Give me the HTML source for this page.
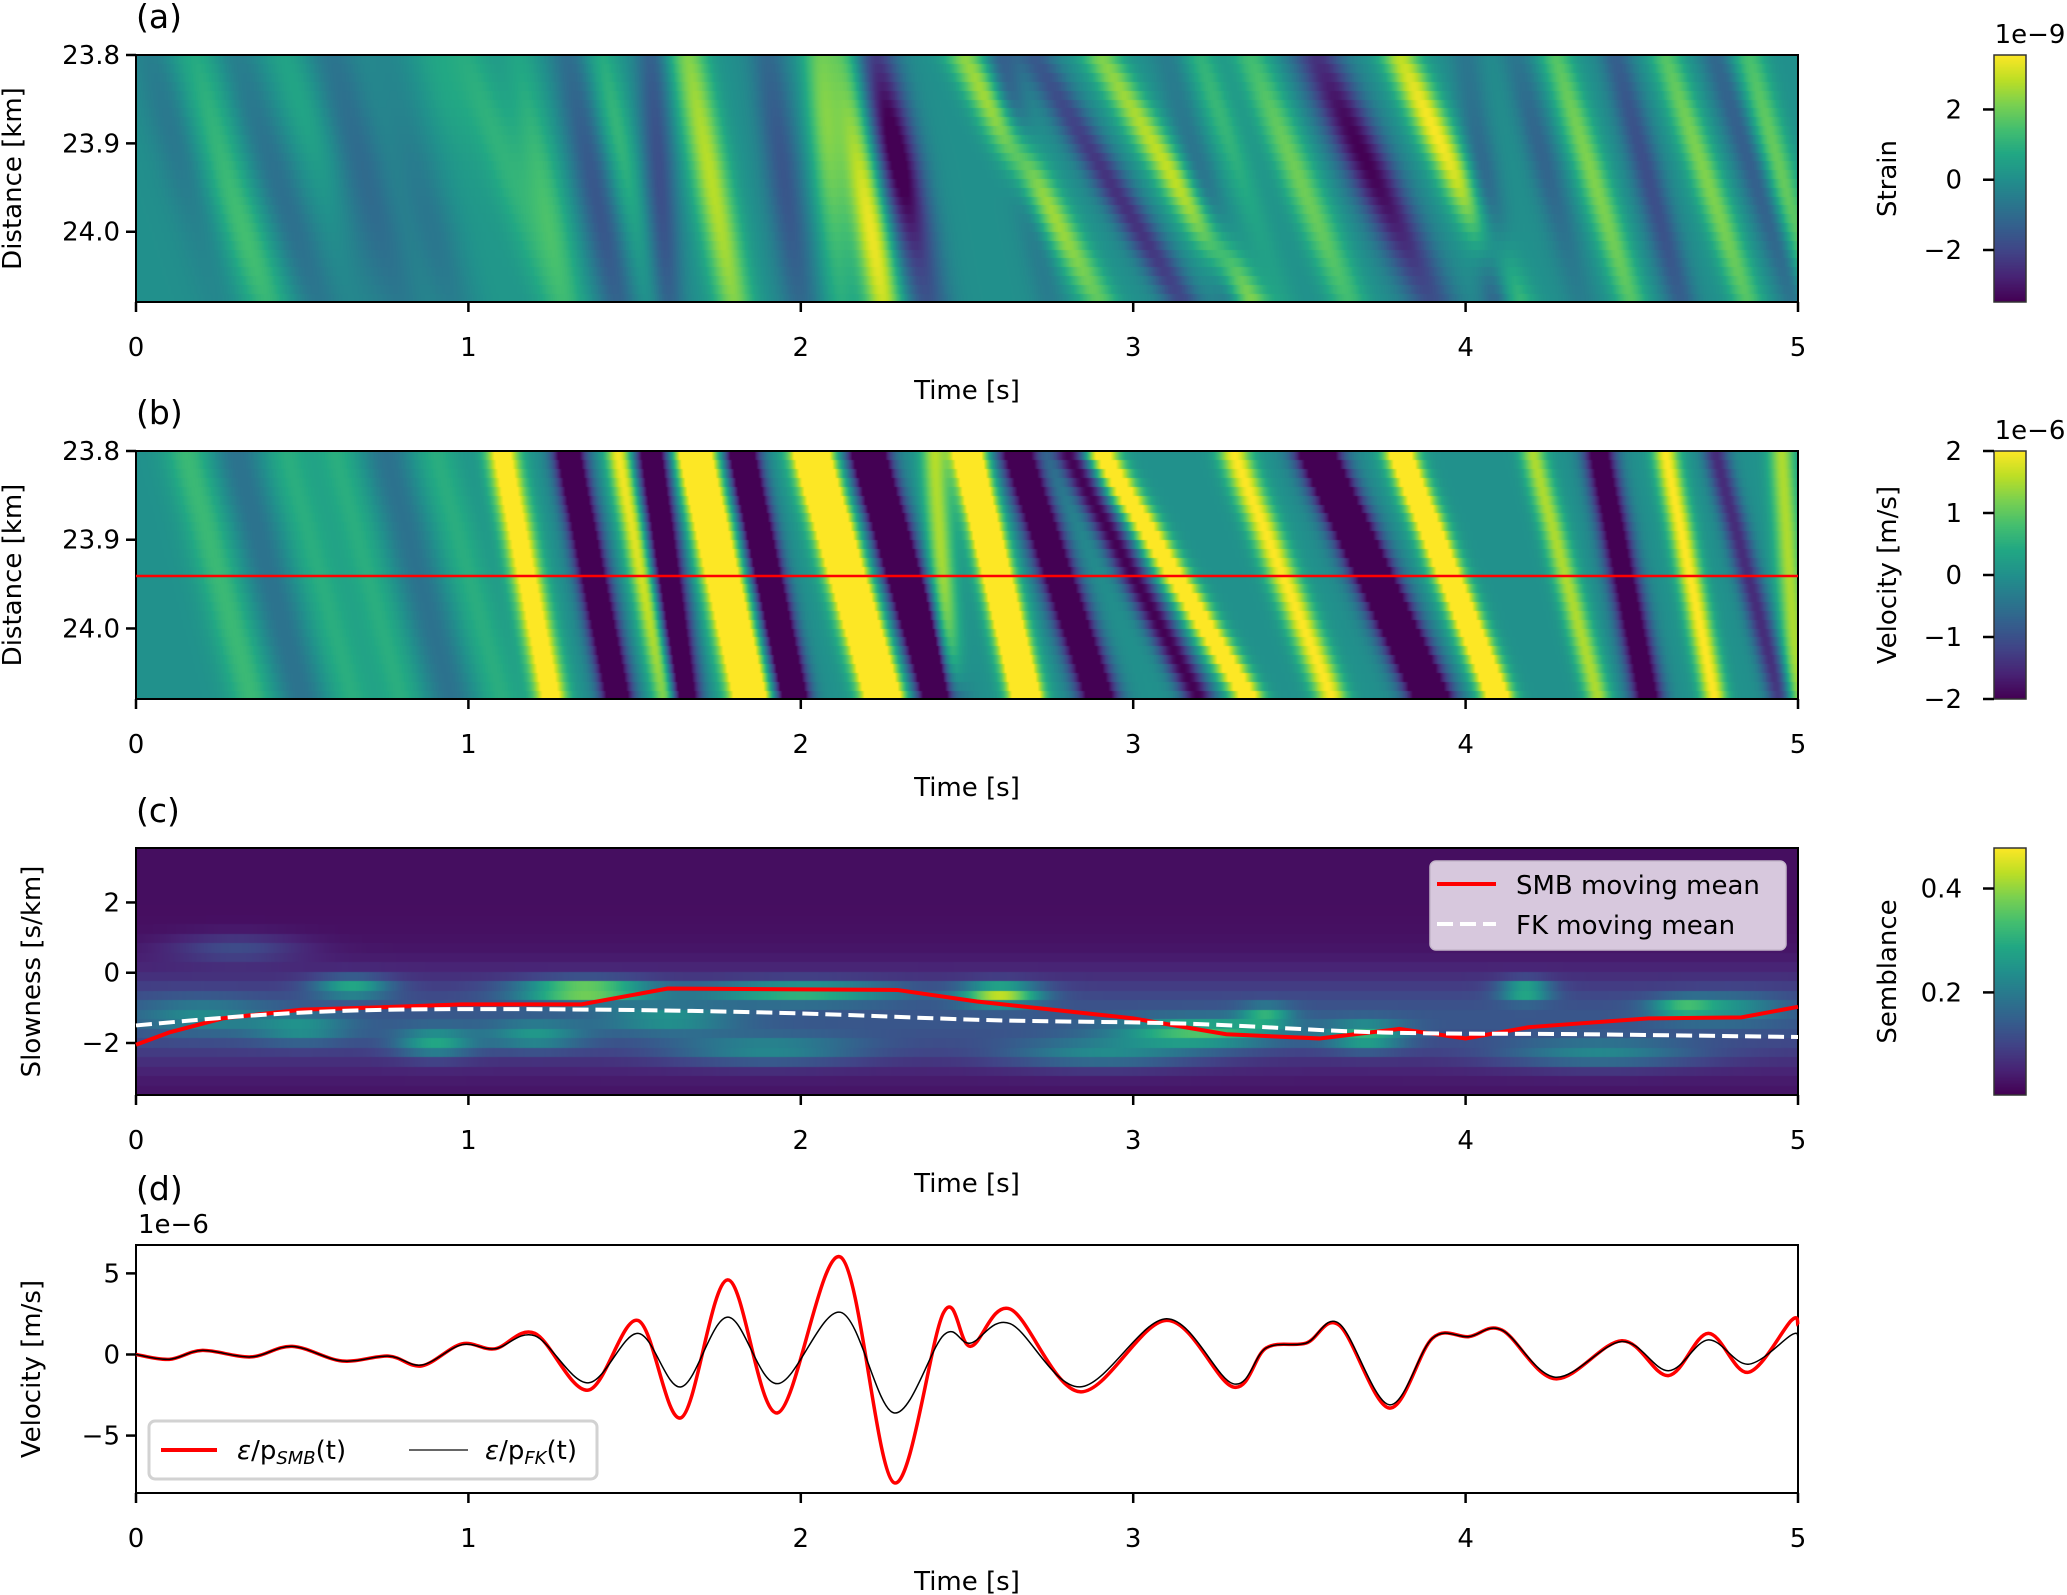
<!DOCTYPE html>
<html><head><meta charset="utf-8">
<style>
html,body{margin:0;padding:0;background:#fff;}
#wrap{position:relative;width:2067px;height:1595px;overflow:hidden;font-family:"DejaVu Sans","Liberation Sans",sans-serif;}
canvas{position:absolute;}
svg{position:absolute;left:0;top:0;}
text{font-family:"DejaVu Sans","Liberation Sans",sans-serif;font-size:26px;fill:#000;}
</style></head>
<body>
<div id="wrap">
<canvas id="ca" width="1662" height="247" style="left:136px;top:55px"></canvas>
<canvas id="cb" width="1662" height="248" style="left:136px;top:451px"></canvas>
<canvas id="cc" width="1662" height="247" style="left:136px;top:848px"></canvas>
<canvas id="cba" width="32" height="247" style="left:1994px;top:55px"></canvas>
<canvas id="cbb" width="32" height="248" style="left:1994px;top:451px"></canvas>
<canvas id="cbc" width="32" height="247" style="left:1994px;top:848px"></canvas>
<svg id="svg" width="2067" height="1595"></svg>
</div>
<script>
// ---------- DATA ----------
// panel (a) strain wave stripes: arrival time at top / bottom of array, amplitude (1e-9), width (s), depth centre (0..1) and depth extent
const strainTop   =[0.15,0.3,0.6,1.0,1.15,1.3,1.55,1.66,1.9,2.05,2.13,2.22,2.49,2.6,2.7,2.9,3.35,3.55,3.8,4.0,4.27,4.45,4.6,4.75,4.85,0.05,0.45,0.75,0.9,0.2,0.55,1.4,3.1,3.2,4.15];
const strainBottom=[0.4,0.55,0.8,1.25,1.3,1.45,1.6,1.8,2.0,2.12,2.25,2.38,2.9,2.75,3.15,3.35,3.65,3.9,4.15,4.1,4.5,4.65,4.85,5.0,5.05,0.25,0.7,0.95,1.1,0.35,0.7,1.55,3.3,3.45,4.35];
const strainAmp   =[1.2,-0.9,-0.9,1.0,1.3,-1.6,-1.8,2.8,-1.6,2.0,3.5,-4,3,-1.5,-2.5,3,2,-3.5,3.5,-2,2.2,-1.8,2.2,-1.5,2,-0.7,0.7,-0.7,0.6,0.6,-0.6,1.2,-1.5,1.2,-1.2];
const strainWidth =[0.07,0.07,0.07,0.07,0.06,0.06,0.05,0.06,0.06,0.05,0.06,0.07,0.06,0.05,0.06,0.06,0.06,0.08,0.06,0.05,0.05,0.05,0.05,0.05,0.05,0.07,0.07,0.07,0.07,0.07,0.07,0.05,0.05,0.05,0.05];
const strainDepth =[0.8,0.6,0.5,0.4,0.6,0.6,0.5,0.5,0.5,0.3,0.7,0.4,0.4,0.2,0.6,0.6,0.5,0.4,0.3,0.8,0.5,0.5,0.5,0.5,0.5,0.3,0.2,0.7,0.1,0.2,0.8,0.3,0.8,0.2,0.4];
const strainSpan  =[0.4,0.6,0.6,0.6,0.5,0.6,0.7,0.8,0.6,0.5,0.6,0.4,0.6,0.4,0.6,0.8,0.6,0.5,0.5,0.4,0.7,0.7,0.7,0.7,0.7,0.4,0.4,0.4,0.3,0.4,0.4,0.4,0.4,0.4,0.4];
// panel (b) velocity wave stripes (1e-6 m/s)
const velTop   =[0.15,1.1,1.3,1.45,1.55,1.68,1.82,2.03,2.2,2.4,2.5,2.65,2.9,2.8,3.55,3.3,3.8,4.4,4.6,4.75,4.95,4.2,0.45,0.75,0.9,0.3,0.6];
const velBottom=[0.35,1.25,1.45,1.6,1.65,1.85,1.98,2.25,2.42,2.45,2.68,2.9,3.35,3.2,3.9,3.6,4.1,4.55,4.75,4.95,5.0,4.4,0.65,0.95,1.1,0.5,0.8];
const velAmp   =[0.7,2.5,-3,2,-3,4,-3.5,4.5,-4,1.5,4,-3,2.5,-2,-3.5,2,3,-2.5,2,-1.5,1.5,1.5,0.5,-0.5,0.5,-0.5,0.5];
const velWidth =[0.07,0.05,0.05,0.04,0.05,0.06,0.05,0.06,0.06,0.04,0.05,0.06,0.05,0.05,0.07,0.05,0.05,0.05,0.04,0.04,0.04,0.04,0.07,0.07,0.07,0.07,0.07];
// panel (c) semblance blobs: time, slowness, amplitude, time-width, slowness-width
const blobT =[1.35,2.0,2.6,0.65,0.9,3.2,3.7,4.18,4.65,3.4,1.2,0.3,1.9,2.9,4.4,0.2,0.5,1.6,4.8];
const blobS =[-0.5,-0.55,-0.6,-0.4,-2.0,-1.7,-1.8,-0.5,-1.0,-1.2,-1.8,0.7,-2.2,-2.3,-2.3,-1.2,-1.6,-1.3,-1.0];
const blobA =[0.33,0.22,0.33,0.2,0.18,0.22,0.2,0.22,0.18,0.16,0.14,0.08,0.14,0.14,0.14,0.1,0.12,0.12,0.12];
const blobWT=[0.2,0.3,0.12,0.12,0.12,0.25,0.12,0.08,0.1,0.08,0.15,0.2,0.3,0.3,0.3,0.2,0.15,0.2,0.15];
const blobWS=[0.3,0.3,0.3,0.3,0.4,0.4,0.4,0.3,0.3,0.3,0.4,0.4,0.4,0.4,0.4,0.5,0.4,0.4,0.4];
// panel (c) moving means
const smbT=[0,0.1,0.26,0.5,0.78,0.98,1.34,1.6,2.29,2.53,3.0,3.28,3.56,3.8,4.0,4.19,4.55,4.83,5.0];
const smbS=[-2.05,-1.7,-1.3,-1.05,-0.97,-0.9,-0.9,-0.45,-0.49,-0.82,-1.3,-1.75,-1.87,-1.6,-1.87,-1.55,-1.3,-1.27,-0.97];
const fkT=[0,0.38,0.78,1.38,1.97,2.57,3.16,3.75,4.35,5.0];
const fkS=[-1.5,-1.2,-1.05,-1.05,-1.15,-1.35,-1.45,-1.7,-1.75,-1.83];
// panel (d) traces (extrema, 1e-6 m/s)
const trT=[0,0.1,0.2,0.345,0.47,0.62,0.76,0.86,0.98,1.08,1.2,1.36,1.51,1.64,1.78,1.93,2.12,2.28,2.43,2.51,2.63,2.84,3.1,3.3,3.4,3.52,3.62,3.77,3.9,4.01,4.11,4.27,4.47,4.61,4.73,4.85,4.98,5.0];
const smbV=[0,-0.3,0.25,-0.15,0.5,-0.4,-0.1,-0.7,0.65,0.35,1.3,-2.2,2.1,-3.9,4.6,-3.6,6.0,-7.9,2.6,0.5,2.8,-2.3,2.1,-2.0,0.4,0.7,1.8,-3.3,1.0,1.1,1.5,-1.5,0.85,-1.3,1.3,-1.1,2.1,1.8];
const fkV=[0,-0.3,0.25,-0.15,0.5,-0.4,-0.1,-0.65,0.6,0.35,1.15,-1.75,1.3,-2.0,2.3,-1.8,2.6,-3.6,1.2,0.7,1.9,-2.0,2.2,-1.8,0.4,0.7,1.9,-3.1,1.0,1.1,1.5,-1.4,0.8,-1.0,0.9,-0.6,1.2,1.1];
// ticks
const timeTicks=[0,1,2,3,4,5];
const distTicks=["23.8","23.9","24.0"];
const slowTicks=[2,0,-2];
const velTicks=[5,0,-5];
const cbaTicks=[2,0,-2];
const cbbTicks=[2,1,0,-1,-2];
const cbcTicks=[0.4,0.2];

// ---------- LAYOUT ----------
const X0=136,X1=1798;
const P={a:[55,302],b:[451,699],c:[848,1095],d:[1245,1493]};
const xs=t=>X0+(t/5)*(X1-X0);
const distY=(d,top,bot)=>top+(d-23.8)/(24.0795-23.8)*(bot-top);
const slowY=s=>P.c[0]+(3.55-s)/(3.55+3.48)*(P.c[1]-P.c[0]);
const velY=v=>P.d[0]+(6.75-v)/(6.75+8.54)*(P.d[1]-P.d[0]);

const VIR=[[68,1,84],[72,36,117],[65,68,135],[53,95,141],[42,120,142],[33,145,140],[34,168,132],[68,191,112],[122,209,81],[189,223,38],[253,231,37]];
function vir(u){u=Math.max(0,Math.min(1,u));const p=u*10,i=Math.min(9,Math.floor(p)),f=p-i;const a=VIR[i],b=VIR[i+1];return [a[0]+(b[0]-a[0])*f,a[1]+(b[1]-a[1])*f,a[2]+(b[2]-a[2])*f];}

function stripeField(id,top,bot,amp,wid,dep,span,vmin,vmax,rows){
  const c=document.getElementById(id),ctx=c.getContext('2d'),W=c.width,H=c.height;
  const img=ctx.createImageData(W,H);
  for(let y=0;y<H;y++){
    const f=(Math.floor(y/H*rows)+0.5)/rows;
    for(let x=0;x<W;x++){
      const t=(x+0.5)/W*5;let v=0;
      for(let k=0;k<amp.length;k++){const tc=top[k]+(bot[k]-top[k])*f;const d=(t-tc)/wid[k];if(d>-4&&d<4){let m=1;if(dep){const e=(f-dep[k])/span[k];m=0.35+0.65*Math.exp(-e*e);}v+=amp[k]*m*Math.exp(-d*d);}}
      const col=vir((v-vmin)/(vmax-vmin));const o=(y*W+x)*4;
      img.data[o]=col[0];img.data[o+1]=col[1];img.data[o+2]=col[2];img.data[o+3]=255;}
  }
  ctx.putImageData(img,0,0);
}
stripeField('ca',strainTop,strainBottom,strainAmp,strainWidth,strainDepth,strainSpan,-3.48,3.55,28);
stripeField('cb',velTop,velBottom,velAmp,velWidth,null,null,-2,2,28);
(function(){
  const c=document.getElementById('cc'),ctx=c.getContext('2d'),W=c.width,H=c.height;const img=ctx.createImageData(W,H);
  for(let y=0;y<H;y++){const r=Math.floor(y/H*26);const s=3.55-(r+0.5)/26*7.03;
    for(let x=0;x<W;x++){const t=(x+0.5)/W*5;
      let v=0.02+0.11*Math.exp(-Math.pow((s+1.3)/1.3,2));
      for(let k=0;k<blobA.length;k++){const a=(t-blobT[k])/blobWT[k],b=(s-blobS[k])/blobWS[k];v+=blobA[k]*Math.exp(-a*a-b*b);}
      const col=vir((v-0.0025)/(0.478-0.0025));const o=(y*W+x)*4;
      img.data[o]=col[0];img.data[o+1]=col[1];img.data[o+2]=col[2];img.data[o+3]=255;}}
  ctx.putImageData(img,0,0);
})();
['cba','cbb','cbc'].forEach(id=>{const c=document.getElementById(id),ctx=c.getContext('2d');for(let y=0;y<c.height;y++){const col=vir(1-y/(c.height-1));ctx.fillStyle=`rgb(${col[0]|0},${col[1]|0},${col[2]|0})`;ctx.fillRect(0,y,c.width,1);}});

// ---------- SVG ----------
const NS='http://www.w3.org/2000/svg',svg=document.getElementById('svg');
function el(tag,attrs,txt){const e=document.createElementNS(NS,tag);for(const k in attrs)e.setAttribute(k,attrs[k]);if(txt!==undefined)e.textContent=txt;svg.appendChild(e);return e;}
function line(x1,y1,x2,y2,w,name){const e=el('line',{x1,y1,x2,y2,stroke:'#000','stroke-width':w});

return e;}
function txt(x,y,s,anchor,name,extra){const e=el('text',Object.assign({x,y,'text-anchor':anchor||'middle'},extra||{}),s);

return e;}

const labelY={a:28,b:424,c:822,d:1200};
function frame(key,label){
  const [t,b]=P[key];
  const r=el('rect',{x:X0,y:t,width:X1-X0,height:b-t,fill:'none',stroke:'#000','stroke-width':2});
  
  
  timeTicks.forEach(v=>{line(xs(v),b,xs(v),b+10,2.5,'x-tick');txt(xs(v),b+54,String(v),'middle','x-tick-label');});
  txt((X0+X1)/2,b+97,'Time [s]','middle','x-axis-title');
  txt(136,labelY[key],label,'start','panel-label',{style:'font-size:33px'});
}
frame('a','(a)');frame('b','(b)');frame('c','(c)');frame('d','(d)');
['a','b'].forEach(k=>{const [t,b]=P[k];
  distTicks.forEach(d=>{const y=distY(parseFloat(d),t,b);line(X0-10,y,X0,y,2.5,'y-tick');txt(120,y+9,d,'end','y-tick-label');});
  txt(0,0,'Distance [km]','middle','y-axis-title',{transform:`translate(21,${(t+b)/2}) rotate(-90)`});
});
slowTicks.forEach(s=>{const y=slowY(s);line(X0-10,y,X0,y,2.5,'y-tick');txt(120,y+9,String(s).replace('-','\u2212'),'end','y-tick-label');});
txt(0,0,'Slowness [s/km]','middle','y-axis-title',{transform:`translate(40,${(P.c[0]+P.c[1])/2}) rotate(-90)`});
velTicks.forEach(v=>{const y=velY(v);line(X0-10,y,X0,y,2.5,'y-tick');txt(120,y+9,String(v).replace('-','\u2212'),'end','y-tick-label');});
txt(0,0,'Velocity [m/s]','middle','y-axis-title',{transform:`translate(40,${(P.d[0]+P.d[1])/2}) rotate(-90)`});
txt(138,1233,'1e\u22126','start','y-offset-label');

// red station line in (b)
const rl=el('line',{x1:X0,y1:576,x2:X1,y2:576,stroke:'#f00','stroke-width':2.5});



// colorbars
function cbar(key,ticks,vmin,vmax,title,off,fmt){
  const [t,b]=P[key];
  const r=el('rect',{x:1994,y:t,width:32,height:b-t,fill:'none',stroke:'#333','stroke-width':1.5});
  
  
  ticks.forEach(v=>{const y=b-(v-vmin)/(vmax-vmin)*(b-t);line(1983,y,1994,y,2.5,'colorbar-tick');txt(1962,y+9,fmt(v),'end','colorbar-tick-label');});
  txt(0,0,title,'middle','colorbar-title',{transform:`translate(1896,${(t+b)/2}) rotate(-90)`});
  if(off)txt(2030,t-12,off,'middle','colorbar-offset-label');
}
const fm=v=>String(v).replace('-','\u2212');
cbar('a',cbaTicks,-3.48,3.55,'Strain','1e\u22129',fm);
cbar('b',cbbTicks,-2,2,'Velocity [m/s]','1e\u22126',fm);
cbar('c',cbcTicks,0.0025,0.478,'Semblance',null,v=>v.toFixed(1));

// smooth path helper (Catmull-Rom through data points)
function smooth(px,py){let d=`M${px[0]},${py[0]}`;for(let i=0;i<px.length-1;i++){const x0=px[Math.max(0,i-1)],y0=py[Math.max(0,i-1)],x1=px[i],y1=py[i],x2=px[i+1],y2=py[i+1],x3=px[Math.min(px.length-1,i+2)],y3=py[Math.min(px.length-1,i+2)];
d+=` C${x1+(x2-x0)/6},${y1+(y2-y0)/6} ${x2-(x3-x1)/6},${y2-(y3-y1)/6} ${x2},${y2}`;}return d;}

// panel c lines
const smbPath=el('polyline',{points:smbT.map((t,i)=>xs(t)+','+slowY(smbS[i])).join(' '),fill:'none',stroke:'#f00','stroke-width':4});


const fkPath=el('path',{d:smooth(fkT.map(xs),fkS.map(slowY)),fill:'none',stroke:'#fff','stroke-width':4,'stroke-dasharray':'16,7'});



// legend c
const lc=el('rect',{x:1430,y:861,width:356,height:89,rx:6,fill:'#dccfe2',stroke:'#c8bccd','stroke-width':1.5,opacity:0.97});


line(1437,884,1496,884,4,'legend-swatch-smb').setAttribute('stroke','#f00');
txt(1516,894,'SMB moving mean','start','legend-label-smb');
const fsw=line(1437,924,1496,924,4,'legend-swatch-fk');fsw.setAttribute('stroke','#fff');fsw.setAttribute('stroke-dasharray','16,7');
txt(1516,934,'FK moving mean','start','legend-label-fk');

// panel d traces
const fkTr=el('path',{d:smooth(trT.map(xs),fkV.map(velY)),fill:'none',stroke:'#000','stroke-width':1.5});


const smbTr=el('path',{d:smooth(trT.map(xs),smbV.map(velY)),fill:'none',stroke:'#f00','stroke-width':3.5});


svg.appendChild(fkTr);

// legend d
const ld=el('rect',{x:149,y:1421,width:448,height:58,rx:6,fill:'#fff',stroke:'#d0d0d0','stroke-width':3,opacity:0.95});


line(161,1450,217,1450,4,'legend-swatch-smb-trace').setAttribute('stroke','#f00');
const t1=txt(237,1459,'','start','legend-label-smb-trace');
t1.innerHTML='<tspan font-style="italic">ε</tspan>/p<tspan font-style="italic" font-size="18px" dy="5">SMB</tspan><tspan dy="-5">(t)</tspan>';
line(409,1450,468,1450,1.5,'legend-swatch-fk-trace').setAttribute('stroke','#333');
const t2=txt(485,1459,'','start','legend-label-fk-trace');
t2.innerHTML='<tspan font-style="italic">ε</tspan>/p<tspan font-style="italic" font-size="18px" dy="5">FK</tspan><tspan dy="-5">(t)</tspan>';
</script>
</body></html>
